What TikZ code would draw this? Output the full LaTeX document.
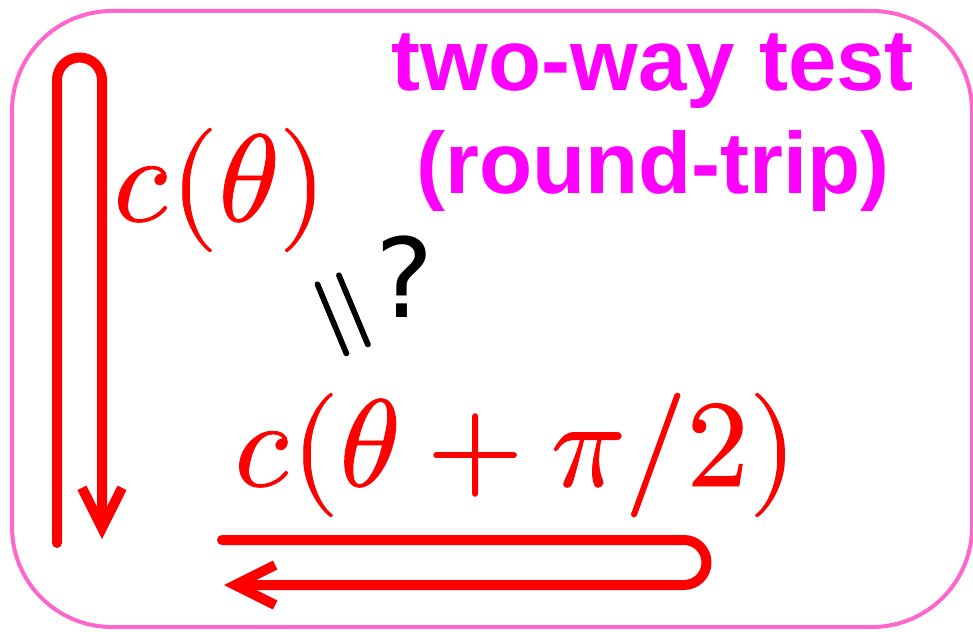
\documentclass[tikz,border=0pt]{standalone}
\usepackage{fontspec}
\usepackage{unicode-math}
\setmathfont{latinmodern-math.otf}[FakeBold=0.7]
\newfontfamily\headfont{Liberation Sans}
\newfontfamily\askfont{DejaVu Sans}
\usepackage{tikz}
\usetikzlibrary{arrows.meta}
\definecolor{tripred}{HTML}{FF0000}
\definecolor{tripmagenta}{HTML}{FF00FF}
\definecolor{framepink}{HTML}{FF66CC}

\begin{document}
\begin{tikzpicture}[
    x=0.5pt, y=-0.5pt,
    frame/.style={draw=framepink, line width=2pt, rounded corners=50pt},
    uturn/.style={draw=tripred, line width=5pt, line cap=round, line join=round,
      -{Straight Barb[length=20pt, width=20pt, line width=5pt]}},
    formula/.style={text=tripred, inner sep=0pt, font=\fontsize{62pt}{68pt}\selectfont},
    heading/.style={text=tripmagenta, align=center, inner sep=0pt,
      font=\headfont\bfseries\fontsize{43.5pt}{51.5pt}\selectfont},
    ask/.style={inner sep=0pt, font=\askfont\fontsize{55pt}{60pt}\selectfont},
    tilt/.style={inner sep=0pt, font=\fontsize{60pt}{66pt}\selectfont},
  ]
  \useasboundingbox (0,0) rectangle (973,631);
  \draw[frame] (12,11) rectangle (972,627);
  % title
  \node[heading, anchor=base] (title) at (653,193) {two-way test\\(round-trip)};
  % formulas
  \node[formula, anchor=base west] (slowc) at (113,221) {$c(\theta)$};
  \node[formula, anchor=base west] (fastc) at (234,486) {$c(\theta+\pi/2)$};
  \node[tilt, anchor=base, rotate=-67.3] (same) at (315,326) {$=$};
  \node[ask, anchor=base] (query) at (405,317) {?};
  % round trips
  \coordinate (upStart) at (57,543);
  \coordinate (downEnd) at (102,539);
  \coordinate (outStart) at (222,540);
  \coordinate (backEnd) at (224,585);
  \draw[uturn] (upStart) -- (57,80) arc[start angle=180, end angle=360, radius=22.5] -- (downEnd);
  \draw[uturn] (outStart) -- (684,540) arc[start angle=-90, end angle=90, radius=22.5] -- (backEnd);
\end{tikzpicture}
\end{document}
